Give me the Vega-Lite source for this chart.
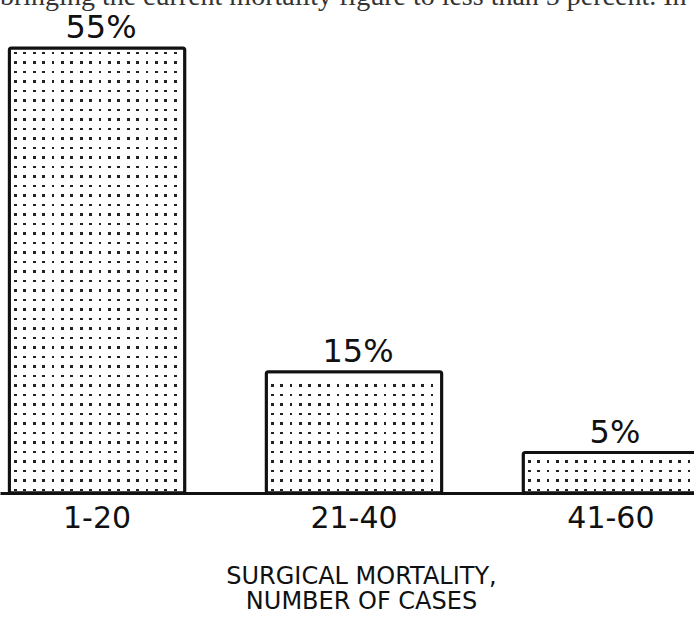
{
  "$schema": "https://vega.github.io/schema/vega-lite/v6.json",
  "width": 694,
  "height": 445,
  "autosize": {"type": "none"},
  "padding": {"left": 0, "right": 0, "top": 48, "bottom": 125},
  "background": "#ffffff",
  "config": {"view": {"stroke": null}},
  "title": {
    "text": "bringing the current mortality figure to less than 5 percent. In",
    "anchor": "start",
    "frame": "group",
    "font": "Liberation Serif",
    "fontSize": 28,
    "fontWeight": "normal",
    "color": "#333333",
    "baseline": "alphabetic",
    "offset": 0,
    "dy": 21
  },
  "data": {
    "values": [
      {"cases": "1-20", "mortality": 55, "label": "55%"},
      {"cases": "21-40", "mortality": 15, "label": "15%"},
      {"cases": "41-60", "mortality": 5, "label": "5%"}
    ]
  },
  "encoding": {
    "x": {
      "field": "cases",
      "type": "nominal",
      "sort": null,
      "scale": {"range": [0, 708], "paddingInner": 0.317, "paddingOuter": 0.0363},
      "axis": {
        "title": ["SURGICAL MORTALITY,", "NUMBER OF CASES"],
        "labelAngle": 0,
        "labelFont": "DejaVu Sans",
        "labelFontSize": 30,
        "labelColor": "#111111",
        "labelPadding": 10,
        "ticks": false,
        "domain": true,
        "domainColor": "#111111",
        "domainWidth": 3,
        "grid": false,
        "titleFont": "DejaVu Sans",
        "titleFontSize": 24,
        "titleFontWeight": "normal",
        "titleColor": "#111111",
        "titleX": 361,
        "titleY": 90,
        "titleBaseline": "alphabetic",
        "titleLineHeight": 25.5
      }
    },
    "y": {
      "field": "mortality",
      "type": "quantitative",
      "scale": {"domain": [0, 55], "nice": false},
      "axis": null
    }
  },
  "layer": [
    {
      "mark": {
        "type": "bar",
        "strokeWidth": 0,
        "fill": {
          "gradient": "linear", "x1": 0, "y1": 0, "x2": 1, "y2": 0,
          "stops": [
            {"offset": 0, "color": "#ffffff"},
            {"offset": 0.0262, "color": "#ffffff"}, {"offset": 0.0262, "color": "#222222"}, {"offset": 0.0422, "color": "#222222"}, {"offset": 0.0422, "color": "#ffffff"},
            {"offset": 0.0797, "color": "#ffffff"}, {"offset": 0.0797, "color": "#222222"}, {"offset": 0.0957, "color": "#222222"}, {"offset": 0.0957, "color": "#ffffff"},
            {"offset": 0.1333, "color": "#ffffff"}, {"offset": 0.1333, "color": "#222222"}, {"offset": 0.1493, "color": "#222222"}, {"offset": 0.1493, "color": "#ffffff"},
            {"offset": 0.1869, "color": "#ffffff"}, {"offset": 0.1869, "color": "#222222"}, {"offset": 0.2029, "color": "#222222"}, {"offset": 0.2029, "color": "#ffffff"},
            {"offset": 0.2404, "color": "#ffffff"}, {"offset": 0.2404, "color": "#222222"}, {"offset": 0.2564, "color": "#222222"}, {"offset": 0.2564, "color": "#ffffff"},
            {"offset": 0.2940, "color": "#ffffff"}, {"offset": 0.2940, "color": "#222222"}, {"offset": 0.3100, "color": "#222222"}, {"offset": 0.3100, "color": "#ffffff"},
            {"offset": 0.3476, "color": "#ffffff"}, {"offset": 0.3476, "color": "#222222"}, {"offset": 0.3636, "color": "#222222"}, {"offset": 0.3636, "color": "#ffffff"},
            {"offset": 0.4011, "color": "#ffffff"}, {"offset": 0.4011, "color": "#222222"}, {"offset": 0.4171, "color": "#222222"}, {"offset": 0.4171, "color": "#ffffff"},
            {"offset": 0.4547, "color": "#ffffff"}, {"offset": 0.4547, "color": "#222222"}, {"offset": 0.4707, "color": "#222222"}, {"offset": 0.4707, "color": "#ffffff"},
            {"offset": 0.5082, "color": "#ffffff"}, {"offset": 0.5082, "color": "#222222"}, {"offset": 0.5242, "color": "#222222"}, {"offset": 0.5242, "color": "#ffffff"},
            {"offset": 0.5618, "color": "#ffffff"}, {"offset": 0.5618, "color": "#222222"}, {"offset": 0.5778, "color": "#222222"}, {"offset": 0.5778, "color": "#ffffff"},
            {"offset": 0.6154, "color": "#ffffff"}, {"offset": 0.6154, "color": "#222222"}, {"offset": 0.6314, "color": "#222222"}, {"offset": 0.6314, "color": "#ffffff"},
            {"offset": 0.6689, "color": "#ffffff"}, {"offset": 0.6689, "color": "#222222"}, {"offset": 0.6849, "color": "#222222"}, {"offset": 0.6849, "color": "#ffffff"},
            {"offset": 0.7225, "color": "#ffffff"}, {"offset": 0.7225, "color": "#222222"}, {"offset": 0.7385, "color": "#222222"}, {"offset": 0.7385, "color": "#ffffff"},
            {"offset": 0.7760, "color": "#ffffff"}, {"offset": 0.7760, "color": "#222222"}, {"offset": 0.7920, "color": "#222222"}, {"offset": 0.7920, "color": "#ffffff"},
            {"offset": 0.8296, "color": "#ffffff"}, {"offset": 0.8296, "color": "#222222"}, {"offset": 0.8456, "color": "#222222"}, {"offset": 0.8456, "color": "#ffffff"},
            {"offset": 0.8832, "color": "#ffffff"}, {"offset": 0.8832, "color": "#222222"}, {"offset": 0.8992, "color": "#222222"}, {"offset": 0.8992, "color": "#ffffff"},
            {"offset": 0.9367, "color": "#ffffff"}, {"offset": 0.9367, "color": "#222222"}, {"offset": 0.9527, "color": "#222222"}, {"offset": 0.9527, "color": "#ffffff"},
            {"offset": 1, "color": "#ffffff"}
          ]
        }
      }
    },
    {
      "transform": [{"filter": "datum.cases === '1-20'"}],
      "mark": {
        "type": "bar",
        "strokeWidth": 0,
        "fill": {
          "gradient": "linear", "x1": 0, "y1": 0, "x2": 0, "y2": 1,
          "stops": [
            {"offset": 0, "color": "#ffffff"},
            {"offset": 0.0082, "color": "#ffffff"}, {"offset": 0.0082, "color": "rgba(255,255,255,0)"}, {"offset": 0.0142, "color": "rgba(255,255,255,0)"}, {"offset": 0.0142, "color": "#ffffff"},
            {"offset": 0.0296, "color": "#ffffff"}, {"offset": 0.0296, "color": "rgba(255,255,255,0)"}, {"offset": 0.0356, "color": "rgba(255,255,255,0)"}, {"offset": 0.0356, "color": "#ffffff"},
            {"offset": 0.0509, "color": "#ffffff"}, {"offset": 0.0509, "color": "rgba(255,255,255,0)"}, {"offset": 0.0569, "color": "rgba(255,255,255,0)"}, {"offset": 0.0569, "color": "#ffffff"},
            {"offset": 0.0723, "color": "#ffffff"}, {"offset": 0.0723, "color": "rgba(255,255,255,0)"}, {"offset": 0.0783, "color": "rgba(255,255,255,0)"}, {"offset": 0.0783, "color": "#ffffff"},
            {"offset": 0.0936, "color": "#ffffff"}, {"offset": 0.0936, "color": "rgba(255,255,255,0)"}, {"offset": 0.0996, "color": "rgba(255,255,255,0)"}, {"offset": 0.0996, "color": "#ffffff"},
            {"offset": 0.1150, "color": "#ffffff"}, {"offset": 0.1150, "color": "rgba(255,255,255,0)"}, {"offset": 0.1210, "color": "rgba(255,255,255,0)"}, {"offset": 0.1210, "color": "#ffffff"},
            {"offset": 0.1363, "color": "#ffffff"}, {"offset": 0.1363, "color": "rgba(255,255,255,0)"}, {"offset": 0.1423, "color": "rgba(255,255,255,0)"}, {"offset": 0.1423, "color": "#ffffff"},
            {"offset": 0.1577, "color": "#ffffff"}, {"offset": 0.1577, "color": "rgba(255,255,255,0)"}, {"offset": 0.1637, "color": "rgba(255,255,255,0)"}, {"offset": 0.1637, "color": "#ffffff"},
            {"offset": 0.1790, "color": "#ffffff"}, {"offset": 0.1790, "color": "rgba(255,255,255,0)"}, {"offset": 0.1850, "color": "rgba(255,255,255,0)"}, {"offset": 0.1850, "color": "#ffffff"},
            {"offset": 0.2004, "color": "#ffffff"}, {"offset": 0.2004, "color": "rgba(255,255,255,0)"}, {"offset": 0.2064, "color": "rgba(255,255,255,0)"}, {"offset": 0.2064, "color": "#ffffff"},
            {"offset": 0.2217, "color": "#ffffff"}, {"offset": 0.2217, "color": "rgba(255,255,255,0)"}, {"offset": 0.2277, "color": "rgba(255,255,255,0)"}, {"offset": 0.2277, "color": "#ffffff"},
            {"offset": 0.2431, "color": "#ffffff"}, {"offset": 0.2431, "color": "rgba(255,255,255,0)"}, {"offset": 0.2491, "color": "rgba(255,255,255,0)"}, {"offset": 0.2491, "color": "#ffffff"},
            {"offset": 0.2644, "color": "#ffffff"}, {"offset": 0.2644, "color": "rgba(255,255,255,0)"}, {"offset": 0.2704, "color": "rgba(255,255,255,0)"}, {"offset": 0.2704, "color": "#ffffff"},
            {"offset": 0.2858, "color": "#ffffff"}, {"offset": 0.2858, "color": "rgba(255,255,255,0)"}, {"offset": 0.2918, "color": "rgba(255,255,255,0)"}, {"offset": 0.2918, "color": "#ffffff"},
            {"offset": 0.3071, "color": "#ffffff"}, {"offset": 0.3071, "color": "rgba(255,255,255,0)"}, {"offset": 0.3131, "color": "rgba(255,255,255,0)"}, {"offset": 0.3131, "color": "#ffffff"},
            {"offset": 0.3285, "color": "#ffffff"}, {"offset": 0.3285, "color": "rgba(255,255,255,0)"}, {"offset": 0.3345, "color": "rgba(255,255,255,0)"}, {"offset": 0.3345, "color": "#ffffff"},
            {"offset": 0.3498, "color": "#ffffff"}, {"offset": 0.3498, "color": "rgba(255,255,255,0)"}, {"offset": 0.3558, "color": "rgba(255,255,255,0)"}, {"offset": 0.3558, "color": "#ffffff"},
            {"offset": 0.3712, "color": "#ffffff"}, {"offset": 0.3712, "color": "rgba(255,255,255,0)"}, {"offset": 0.3772, "color": "rgba(255,255,255,0)"}, {"offset": 0.3772, "color": "#ffffff"},
            {"offset": 0.3925, "color": "#ffffff"}, {"offset": 0.3925, "color": "rgba(255,255,255,0)"}, {"offset": 0.3985, "color": "rgba(255,255,255,0)"}, {"offset": 0.3985, "color": "#ffffff"},
            {"offset": 0.4139, "color": "#ffffff"}, {"offset": 0.4139, "color": "rgba(255,255,255,0)"}, {"offset": 0.4199, "color": "rgba(255,255,255,0)"}, {"offset": 0.4199, "color": "#ffffff"},
            {"offset": 0.4352, "color": "#ffffff"}, {"offset": 0.4352, "color": "rgba(255,255,255,0)"}, {"offset": 0.4412, "color": "rgba(255,255,255,0)"}, {"offset": 0.4412, "color": "#ffffff"},
            {"offset": 0.4566, "color": "#ffffff"}, {"offset": 0.4566, "color": "rgba(255,255,255,0)"}, {"offset": 0.4626, "color": "rgba(255,255,255,0)"}, {"offset": 0.4626, "color": "#ffffff"},
            {"offset": 0.4779, "color": "#ffffff"}, {"offset": 0.4779, "color": "rgba(255,255,255,0)"}, {"offset": 0.4839, "color": "rgba(255,255,255,0)"}, {"offset": 0.4839, "color": "#ffffff"},
            {"offset": 0.4993, "color": "#ffffff"}, {"offset": 0.4993, "color": "rgba(255,255,255,0)"}, {"offset": 0.5053, "color": "rgba(255,255,255,0)"}, {"offset": 0.5053, "color": "#ffffff"},
            {"offset": 0.5206, "color": "#ffffff"}, {"offset": 0.5206, "color": "rgba(255,255,255,0)"}, {"offset": 0.5266, "color": "rgba(255,255,255,0)"}, {"offset": 0.5266, "color": "#ffffff"},
            {"offset": 0.5419, "color": "#ffffff"}, {"offset": 0.5419, "color": "rgba(255,255,255,0)"}, {"offset": 0.5479, "color": "rgba(255,255,255,0)"}, {"offset": 0.5479, "color": "#ffffff"},
            {"offset": 0.5633, "color": "#ffffff"}, {"offset": 0.5633, "color": "rgba(255,255,255,0)"}, {"offset": 0.5693, "color": "rgba(255,255,255,0)"}, {"offset": 0.5693, "color": "#ffffff"},
            {"offset": 0.5846, "color": "#ffffff"}, {"offset": 0.5846, "color": "rgba(255,255,255,0)"}, {"offset": 0.5906, "color": "rgba(255,255,255,0)"}, {"offset": 0.5906, "color": "#ffffff"},
            {"offset": 0.6060, "color": "#ffffff"}, {"offset": 0.6060, "color": "rgba(255,255,255,0)"}, {"offset": 0.6120, "color": "rgba(255,255,255,0)"}, {"offset": 0.6120, "color": "#ffffff"},
            {"offset": 0.6273, "color": "#ffffff"}, {"offset": 0.6273, "color": "rgba(255,255,255,0)"}, {"offset": 0.6333, "color": "rgba(255,255,255,0)"}, {"offset": 0.6333, "color": "#ffffff"},
            {"offset": 0.6487, "color": "#ffffff"}, {"offset": 0.6487, "color": "rgba(255,255,255,0)"}, {"offset": 0.6547, "color": "rgba(255,255,255,0)"}, {"offset": 0.6547, "color": "#ffffff"},
            {"offset": 0.6700, "color": "#ffffff"}, {"offset": 0.6700, "color": "rgba(255,255,255,0)"}, {"offset": 0.6760, "color": "rgba(255,255,255,0)"}, {"offset": 0.6760, "color": "#ffffff"},
            {"offset": 0.6914, "color": "#ffffff"}, {"offset": 0.6914, "color": "rgba(255,255,255,0)"}, {"offset": 0.6974, "color": "rgba(255,255,255,0)"}, {"offset": 0.6974, "color": "#ffffff"},
            {"offset": 0.7127, "color": "#ffffff"}, {"offset": 0.7127, "color": "rgba(255,255,255,0)"}, {"offset": 0.7187, "color": "rgba(255,255,255,0)"}, {"offset": 0.7187, "color": "#ffffff"},
            {"offset": 0.7341, "color": "#ffffff"}, {"offset": 0.7341, "color": "rgba(255,255,255,0)"}, {"offset": 0.7401, "color": "rgba(255,255,255,0)"}, {"offset": 0.7401, "color": "#ffffff"},
            {"offset": 0.7554, "color": "#ffffff"}, {"offset": 0.7554, "color": "rgba(255,255,255,0)"}, {"offset": 0.7614, "color": "rgba(255,255,255,0)"}, {"offset": 0.7614, "color": "#ffffff"},
            {"offset": 0.7768, "color": "#ffffff"}, {"offset": 0.7768, "color": "rgba(255,255,255,0)"}, {"offset": 0.7828, "color": "rgba(255,255,255,0)"}, {"offset": 0.7828, "color": "#ffffff"},
            {"offset": 0.7981, "color": "#ffffff"}, {"offset": 0.7981, "color": "rgba(255,255,255,0)"}, {"offset": 0.8041, "color": "rgba(255,255,255,0)"}, {"offset": 0.8041, "color": "#ffffff"},
            {"offset": 0.8195, "color": "#ffffff"}, {"offset": 0.8195, "color": "rgba(255,255,255,0)"}, {"offset": 0.8255, "color": "rgba(255,255,255,0)"}, {"offset": 0.8255, "color": "#ffffff"},
            {"offset": 0.8408, "color": "#ffffff"}, {"offset": 0.8408, "color": "rgba(255,255,255,0)"}, {"offset": 0.8468, "color": "rgba(255,255,255,0)"}, {"offset": 0.8468, "color": "#ffffff"},
            {"offset": 0.8622, "color": "#ffffff"}, {"offset": 0.8622, "color": "rgba(255,255,255,0)"}, {"offset": 0.8682, "color": "rgba(255,255,255,0)"}, {"offset": 0.8682, "color": "#ffffff"},
            {"offset": 0.8835, "color": "#ffffff"}, {"offset": 0.8835, "color": "rgba(255,255,255,0)"}, {"offset": 0.8895, "color": "rgba(255,255,255,0)"}, {"offset": 0.8895, "color": "#ffffff"},
            {"offset": 0.9049, "color": "#ffffff"}, {"offset": 0.9049, "color": "rgba(255,255,255,0)"}, {"offset": 0.9109, "color": "rgba(255,255,255,0)"}, {"offset": 0.9109, "color": "#ffffff"},
            {"offset": 0.9262, "color": "#ffffff"}, {"offset": 0.9262, "color": "rgba(255,255,255,0)"}, {"offset": 0.9322, "color": "rgba(255,255,255,0)"}, {"offset": 0.9322, "color": "#ffffff"},
            {"offset": 0.9476, "color": "#ffffff"}, {"offset": 0.9476, "color": "rgba(255,255,255,0)"}, {"offset": 0.9536, "color": "rgba(255,255,255,0)"}, {"offset": 0.9536, "color": "#ffffff"},
            {"offset": 0.9689, "color": "#ffffff"}, {"offset": 0.9689, "color": "rgba(255,255,255,0)"}, {"offset": 0.9749, "color": "rgba(255,255,255,0)"}, {"offset": 0.9749, "color": "#ffffff"},
            {"offset": 0.9903, "color": "#ffffff"}, {"offset": 0.9903, "color": "rgba(255,255,255,0)"}, {"offset": 0.9963, "color": "rgba(255,255,255,0)"}, {"offset": 0.9963, "color": "#ffffff"},
            {"offset": 1, "color": "#ffffff"}
          ]
        }
      }
    },
    {
      "transform": [{"filter": "datum.cases === '21-40'"}],
      "mark": {
        "type": "bar",
        "strokeWidth": 0,
        "fill": {
          "gradient": "linear", "x1": 0, "y1": 0, "x2": 0, "y2": 1,
          "stops": [
            {"offset": 0, "color": "#ffffff"},
            {"offset": 0.1030, "color": "#ffffff"}, {"offset": 0.1030, "color": "rgba(255,255,255,0)"}, {"offset": 0.1260, "color": "rgba(255,255,255,0)"}, {"offset": 0.1260, "color": "#ffffff"},
            {"offset": 0.1813, "color": "#ffffff"}, {"offset": 0.1813, "color": "rgba(255,255,255,0)"}, {"offset": 0.2043, "color": "rgba(255,255,255,0)"}, {"offset": 0.2043, "color": "#ffffff"},
            {"offset": 0.2595, "color": "#ffffff"}, {"offset": 0.2595, "color": "rgba(255,255,255,0)"}, {"offset": 0.2825, "color": "rgba(255,255,255,0)"}, {"offset": 0.2825, "color": "#ffffff"},
            {"offset": 0.3378, "color": "#ffffff"}, {"offset": 0.3378, "color": "rgba(255,255,255,0)"}, {"offset": 0.3608, "color": "rgba(255,255,255,0)"}, {"offset": 0.3608, "color": "#ffffff"},
            {"offset": 0.4160, "color": "#ffffff"}, {"offset": 0.4160, "color": "rgba(255,255,255,0)"}, {"offset": 0.4390, "color": "rgba(255,255,255,0)"}, {"offset": 0.4390, "color": "#ffffff"},
            {"offset": 0.4943, "color": "#ffffff"}, {"offset": 0.4943, "color": "rgba(255,255,255,0)"}, {"offset": 0.5173, "color": "rgba(255,255,255,0)"}, {"offset": 0.5173, "color": "#ffffff"},
            {"offset": 0.5725, "color": "#ffffff"}, {"offset": 0.5725, "color": "rgba(255,255,255,0)"}, {"offset": 0.5955, "color": "rgba(255,255,255,0)"}, {"offset": 0.5955, "color": "#ffffff"},
            {"offset": 0.6508, "color": "#ffffff"}, {"offset": 0.6508, "color": "rgba(255,255,255,0)"}, {"offset": 0.6738, "color": "rgba(255,255,255,0)"}, {"offset": 0.6738, "color": "#ffffff"},
            {"offset": 0.7290, "color": "#ffffff"}, {"offset": 0.7290, "color": "rgba(255,255,255,0)"}, {"offset": 0.7520, "color": "rgba(255,255,255,0)"}, {"offset": 0.7520, "color": "#ffffff"},
            {"offset": 0.8073, "color": "#ffffff"}, {"offset": 0.8073, "color": "rgba(255,255,255,0)"}, {"offset": 0.8303, "color": "rgba(255,255,255,0)"}, {"offset": 0.8303, "color": "#ffffff"},
            {"offset": 0.8855, "color": "#ffffff"}, {"offset": 0.8855, "color": "rgba(255,255,255,0)"}, {"offset": 0.9085, "color": "rgba(255,255,255,0)"}, {"offset": 0.9085, "color": "#ffffff"},
            {"offset": 0.9638, "color": "#ffffff"}, {"offset": 0.9638, "color": "rgba(255,255,255,0)"}, {"offset": 0.9868, "color": "rgba(255,255,255,0)"}, {"offset": 0.9868, "color": "#ffffff"},
            {"offset": 1, "color": "#ffffff"}
          ]
        }
      }
    },
    {
      "transform": [{"filter": "datum.cases === '41-60'"}],
      "mark": {
        "type": "bar",
        "strokeWidth": 0,
        "fill": {
          "gradient": "linear", "x1": 0, "y1": 0, "x2": 0, "y2": 1,
          "stops": [
            {"offset": 0, "color": "#ffffff"},
            {"offset": 0.1867, "color": "#ffffff"}, {"offset": 0.1867, "color": "rgba(255,255,255,0)"}, {"offset": 0.2559, "color": "rgba(255,255,255,0)"}, {"offset": 0.2559, "color": "#ffffff"},
            {"offset": 0.4215, "color": "#ffffff"}, {"offset": 0.4215, "color": "rgba(255,255,255,0)"}, {"offset": 0.4907, "color": "rgba(255,255,255,0)"}, {"offset": 0.4907, "color": "#ffffff"},
            {"offset": 0.6564, "color": "#ffffff"}, {"offset": 0.6564, "color": "rgba(255,255,255,0)"}, {"offset": 0.7256, "color": "rgba(255,255,255,0)"}, {"offset": 0.7256, "color": "#ffffff"},
            {"offset": 0.8912, "color": "#ffffff"}, {"offset": 0.8912, "color": "rgba(255,255,255,0)"}, {"offset": 0.9604, "color": "rgba(255,255,255,0)"}, {"offset": 0.9604, "color": "#ffffff"},
            {"offset": 1, "color": "#ffffff"}
          ]
        }
      }
    },
    {
      "mark": {
        "type": "bar",
        "fillOpacity": 0,
        "stroke": "#111111",
        "strokeWidth": 3,
        "cornerRadius": 2
      }
    },
    {
      "mark": {
        "type": "text",
        "font": "DejaVu Sans",
        "fontSize": 32,
        "baseline": "alphabetic",
        "align": "center",
        "dy": -10,
        "dx": 4,
        "color": "#111111"
      },
      "encoding": {
        "text": {"field": "label", "type": "nominal"}
      }
    }
  ]
}
